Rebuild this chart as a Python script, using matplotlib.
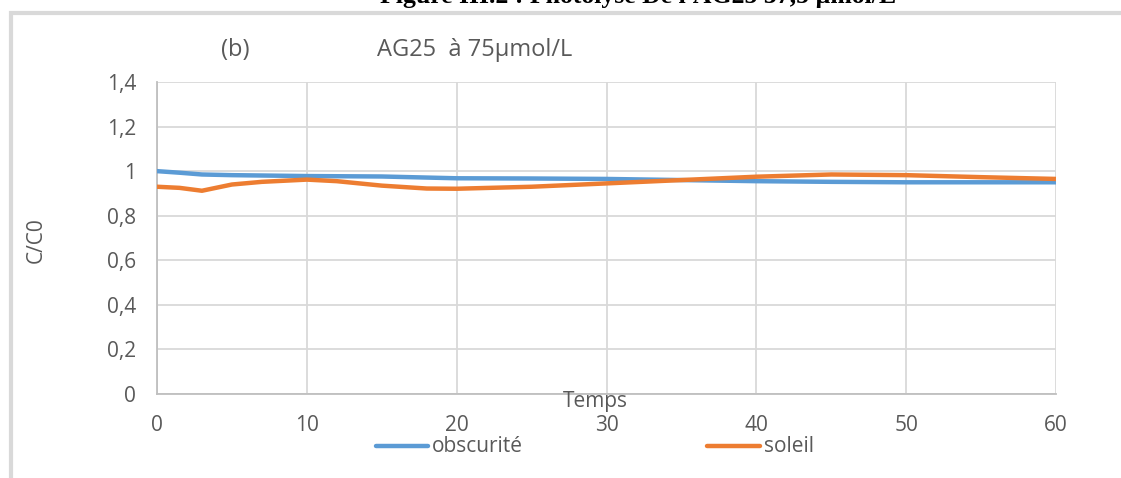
import matplotlib
matplotlib.use("Agg")
import matplotlib.pyplot as plt
from matplotlib.lines import Line2D
from matplotlib.patches import Rectangle

# temps (min) and C/C0 values
t_obs = [0, 1.5, 3, 5, 10, 15, 20, 25, 30, 35, 40, 45, 50, 55, 60]
c_obs = [1.0, 0.993, 0.985, 0.982, 0.978, 0.976, 0.968, 0.967, 0.965, 0.96, 0.955, 0.952, 0.95, 0.95, 0.95]

t_sol = [0, 1.5, 3, 5, 7, 10, 12, 15, 18, 20, 25, 30, 35, 40, 45, 50, 55, 60]
c_sol = [0.930, 0.925, 0.912, 0.940, 0.952, 0.962, 0.955, 0.935, 0.922, 0.921, 0.930, 0.945, 0.960, 0.975, 0.985, 0.982, 0.973, 0.965]

x_ticks = [0, 10, 20, 30, 40, 50, 60]
y_ticks = [0, 0.2, 0.4, 0.6, 0.8, 1.0, 1.2, 1.4]
y_labels = ["0", "0,2", "0,4", "0,6", "0,8", "1", "1,2", "1,4"]

blue = "#5b9bd5"
orange = "#ed7d31"
txt = "#595959"
grid = "#d9d9d9"
fs = 15

plt.rcParams['font.family'] = ['Open Sans', 'DejaVu Sans']

fig = plt.figure(figsize=(11.21, 4.78), dpi=100)
W, H = 1121, 478

# outer chart frame (cut off at right/bottom)
fig.patches.append(Rectangle((11 / W, -0.05), 1.2, 1 - 13 / H + 0.05,
                             transform=fig.transFigure, fill=False,
                             edgecolor=grid, linewidth=3, clip_on=False))

# caption of the document, mostly cut off at the top (as in the scan)
fig.text(638 / W, 1 - 3 / H, "Figure III.2 : Photolyse De l'AG25 37,5 µmol/L",
         ha='center', va='baseline', fontsize=18.5, fontweight='bold',
         family='Liberation Serif', color='black')

ax = fig.add_axes([157 / W, 1 - 394 / H, (1056 - 157) / W, (394 - 82) / H])
ax.plot(t_obs, c_obs, color=blue, linewidth=3.2, solid_capstyle='round', zorder=3)
ax.plot(t_sol, c_sol, color=orange, linewidth=3.2, solid_capstyle='round', zorder=3)

ax.set_xlim(0, 60)
ax.set_ylim(0, 1.4)
ax.set_xticks(x_ticks)
ax.set_yticks(y_ticks)
ax.set_yticklabels(y_labels)
ax.tick_params(length=0, labelsize=fs, labelcolor=txt)
ax.tick_params(axis='y', pad=15)
ax.tick_params(axis='x', pad=15)
ax.grid(True, color=grid, linewidth=1.3)
ax.set_axisbelow(True)
for s in ['top', 'right']:
    ax.spines[s].set_visible(False)
ax.spines['left'].set_color('#bfbfbf')
ax.spines['bottom'].set_color('#bfbfbf')
ax.spines['left'].set_linewidth(1.3)
ax.spines['bottom'].set_linewidth(1.3)

fig.text(595 / W, 1 - 401 / H, "Temps", ha='center', va='center', fontsize=fs, color=txt)
fig.text(36 / W, 1 - 240 / H, "C/C0", ha='center', va='center', rotation=90,
         fontsize=fs, color=txt)
fig.text(235 / W, 1 - 50 / H, "(b)", ha='center', va='center', fontsize=17, color=txt)
fig.text(475 / W, 1 - 50 / H, "AG25  à 75µmol/L", ha='center', va='center',
         fontsize=17, color=txt)

# legend drawn by hand to match the placement
fig.lines.append(Line2D([376 / W, 428 / W], [1 - 446 / H] * 2, transform=fig.transFigure,
                        color=blue, linewidth=3.2, solid_capstyle='round'))
fig.text(432 / W, 1 - 446 / H, "obscurité", ha='left', va='center', fontsize=fs, color=txt)
fig.lines.append(Line2D([707 / W, 760 / W], [1 - 446 / H] * 2, transform=fig.transFigure,
                        color=orange, linewidth=3.2, solid_capstyle='round'))
fig.text(764 / W, 1 - 446 / H, "soleil", ha='left', va='center', fontsize=fs, color=txt)

fig.savefig("out.png", dpi=100)
